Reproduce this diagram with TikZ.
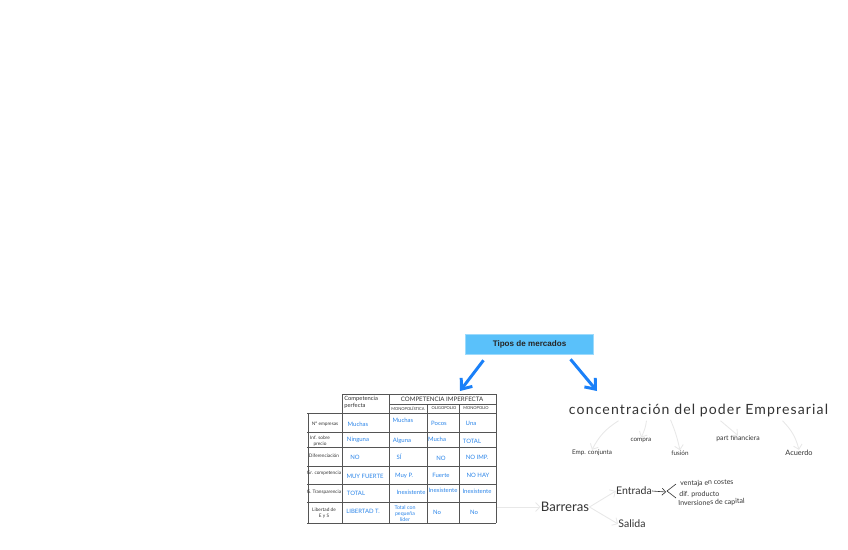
\documentclass[tikz,border=0pt]{standalone}
\usepackage{fontspec}
\setmainfont{Lato}
\newfontfamily\titlefont{Liberation Sans}
\usepackage{xcolor}
\usetikzlibrary{arrows.meta, calc}
\definecolor{cajatitulo}{HTML}{5AC1FA}
\definecolor{flechaazul}{HTML}{1A80F8}
\definecolor{tintaazul}{HTML}{2A84E8}
\definecolor{tinta}{HTML}{333333}
\definecolor{rejilla}{HTML}{555555}
\definecolor{ramapalida}{HTML}{E8E8E8}
\tikzset{
  titulo/.style={fill=cajatitulo, draw=cajatitulo!60, line width=0.3pt, minimum width=128*0.02cm, minimum height=20*0.02cm, inner sep=0pt, font=\titlefont\fontsize{4.6}{6}\selectfont\bfseries, text=black!85},
  flecha/.style={draw=flechaazul, line width=1.7pt, -{Straight Barb[length=5pt,width=8pt]}},
  rama/.style={draw=ramapalida, line width=0.5pt, -{Straight Barb[length=2.5pt,width=5pt]}},
  linea/.style={draw=rejilla, line width=0.55pt},
  lineafina/.style={draw=rejilla, line width=0.4pt},
  cab/.style={inner sep=0pt, align=left, text=tinta, font=\fontsize{3.3}{3.8}\selectfont},
  sub/.style={inner sep=0pt, align=center, text=tinta, font=\fontsize{2.3}{3}\selectfont},
  fila/.style={inner sep=0pt, align=center, text=tinta, font=\fontsize{2.7}{3.6}\selectfont},
  dato/.style={inner sep=0pt, align=center, text=tintaazul, font=\fontsize{3.4}{4}\selectfont},
  datochico/.style={inner sep=0pt, align=center, text=tintaazul, font=\fontsize{3}{3.4}\selectfont},
  mano/.style={inner sep=0pt, text=tinta, font=\fontsize{3.6}{4}\selectfont},
  nota/.style={inner sep=0pt, text=tinta, font=\fontsize{4}{5}\selectfont, anchor=west},
  grande/.style={inner sep=0pt, text=tinta, font=\fontsize{8}{9}\selectfont},
  media/.style={inner sep=0pt, text=tinta, font=\fontsize{6}{7}\selectfont},
}
\begin{document}
\begin{tikzpicture}[x=0.02cm, y=-0.02cm]
\useasboundingbox (0,0) rectangle (848,549);
% Title box and the two big arrows
\node[titulo] (tipos) at (529.5,344) {Tipos de mercados};
\coordinate (tablaTop) at (460,391);
\coordinate (concTop) at (597,391);
\draw[flecha] ($(tipos.south)+(-46,6)$) -- (tablaTop);
\draw[flecha] ($(tipos.south)+(41,5)$) -- (concTop);

% Table lines
\draw[linea] (342,394) -- (496,394);
\draw[lineafina] (389,404) -- (496,404);
\draw[linea] (307,413) -- (496,413);
\draw[linea] (307,432) -- (496,432);
\draw[linea] (307,447) -- (496,447);
\draw[linea] (307,466) -- (496,466);
\draw[linea] (307,484) -- (496,484);
\draw[linea] (307,502) -- (496,502);
\draw[linea] (307,523) -- (496,523);
\draw[linea] (308,413) -- (308,523);
\draw[linea] (342,394) -- (342,523);
\draw[linea] (389,394) -- (389,523);
\draw[linea] (427,404) -- (427,523);
\draw[linea] (459,404) -- (459,523);
\draw[linea] (496,394) -- (496,523);

% Table header
\node[cab, anchor=west] (cabPerf) at (344,402.5) {Competencia\\ perfecta};
\node[cab, font=\fontsize{3.5}{4}\selectfont] (cabImp) at (442,399) {COMPETENCIA IMPERFECTA};
\node[sub] (subMono) at (408,408.5) {MONOPOLÍSTICA};
\node[sub] (subOli) at (444,408.5) {OLIGOPOLIO};
\node[sub] (subMon) at (476,408.5) {MONOPOLIO};
% Row labels
\node[fila] (filaEmp) at (325,424) {Nº empresas};
\node[fila] (filaInf) at (320,441) {Inf. sobre\\ precio};
\node[fila] (filaDif) at (324,456) {Diferenciación};
\node[fila] (filaCom) at (324,473) {Gr. competencia};
\node[fila] (filaTra) at (324,492) {G. Transparencia};
\node[fila] (filaLib) at (324,513) {Libertad de\\ E y S};
% Perfecta
\node[dato] (perfA) at (358,424) {Muchas};
\node[dato] (perfB) at (358,440) {Ninguna};
\node[dato] (perfC) at (355,457) {NO};
\node[dato] (perfD) at (365,476) {MUY FUERTE};
\node[dato] (perfE) at (356,493) {TOTAL};
\node[dato] (perfF) at (363,511) {LIBERTAD T.};
% Monopolistica
\node[dato] (monoA) at (403,420) {Muchas};
\node[dato] (monoB) at (402,441) {Alguna};
\node[dato] (monoC) at (399,457) {SÍ};
\node[dato] (monoD) at (404,476) {Muy P.};
\node[dato] (monoE) at (411,492) {Inexistente};
\node[datochico] (monoF) at (405,514) {Total con\\ pequeña\\ líder};
% Oligopolio
\node[dato] (oliA) at (439,423) {Pocos};
\node[dato] (oliB) at (437,439) {Mucha};
\node[dato] (oliC) at (441,458) {NO};
\node[dato] (oliD) at (441,475) {Fuerte};
\node[dato] (oliE) at (443,490) {Inexistente};
\node[dato] (oliF) at (437,512) {No};
% Monopolio
\node[dato] (monA) at (471,423) {Una};
\node[dato] (monB) at (472,441) {TOTAL};
\node[dato] (monC) at (477,457) {NO IMP.};
\node[dato] (monD) at (478,475) {NO HAY};
\node[dato] (monE) at (477,491) {Inexistente};
\node[dato] (monF) at (474,512) {No};

% Concentracion
\node[grande] (concen) at (698.5,411) {\addfontfeature{LetterSpace=8}concentración del poder Empresarial};
\node[mano] (empConj) at (592,453) {Emp. conjunta};
\node[mano] (compra) at (641,440) {compra};
\node[mano] (fusion) at (680,453) {fusión};
\node[mano, font=\fontsize{3.9}{4}\selectfont] (partFin) at (738,439) {part financiera};
\node[mano, font=\fontsize{4.2}{5}\selectfont] (acuerdo) at (799,453) {Acuerdo};
\draw[rama] ($(concen.south)+(-80,3)$) to[bend right=15] (empConj.north);
\draw[rama] ($(concen.south)+(-52,3)$) to[bend left=10] (compra.north);
\draw[rama] ($(concen.south)+(-28,2)$) to[bend left=5] (fusion.north);
\draw[rama] ($(concen.south)+(22,3)$) -- (partFin.north);
\draw[rama] ($(concen.south)+(84,3)$) to[bend left=15] (acuerdo.north);

% Barreras
\coordinate (tablaDer) at (497,507);
\node[media, font=\fontsize{7.5}{9}\selectfont] (barreras) at (565,507) {Barreras};
\node[media] (entrada) at (634,491) {Entrada};
\node[media] (salida) at (632,524) {Salida};
\draw[rama] (tablaDer) -- (barreras.west);
\draw[rama] (barreras.east) -- (entrada.west);
\draw[rama] (barreras.east) -- (salida.west);
\coordinate (llave) at (666,492);
\draw[draw=tinta, line width=0.35pt, -{Straight Barb[length=2pt,width=4pt]}] (entrada.east) -- (llave);
\draw[draw=tinta, line width=0.35pt] (676,484) -- (667,491) -- (676,498);
\node[nota, rotate=2] (nota1) at (680,484) {ventaja en costes};
\node[nota] (nota2) at (679,494) {dif. producto};
\node[nota, rotate=2] (nota3) at (678,504) {Inversiones de capital};
\end{tikzpicture}
\end{document}
